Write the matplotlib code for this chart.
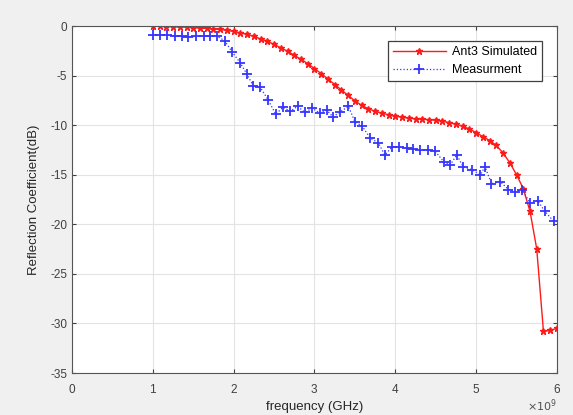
import numpy as np
import matplotlib
matplotlib.use("Agg")
import matplotlib.pyplot as plt
from matplotlib.ticker import ScalarFormatter

# simulated S11 (GHz, dB)
sim_freq = [1.000, 1.083, 1.167, 1.250, 1.333, 1.417, 1.500, 1.583, 1.667, 1.750,
            1.833, 1.917, 2.000, 2.083, 2.167, 2.250, 2.333, 2.417, 2.500, 2.583,
            2.667, 2.750, 2.833, 2.917, 3.000, 3.083, 3.167, 3.250, 3.333, 3.417,
            3.500, 3.583, 3.667, 3.750, 3.833, 3.917, 4.000, 4.083, 4.167, 4.250,
            4.333, 4.417, 4.500, 4.583, 4.667, 4.750, 4.833, 4.917, 5.000, 5.083,
            5.167, 5.250, 5.333, 5.417, 5.500, 5.583, 5.667, 5.750, 5.833, 5.917,
            6.000]
sim_db = [0.0, 0.0, -0.05, -0.05, -0.1, -0.1, -0.15, -0.2, -0.25, -0.3,
          -0.35, -0.45, -0.55, -0.7, -0.85, -1.05, -1.3, -1.55, -1.85, -2.2,
          -2.55, -2.95, -3.35, -3.8, -4.3, -4.8, -5.35, -5.9, -6.45, -7.0,
          -7.55, -8.0, -8.35, -8.6, -8.8, -8.95, -9.1, -9.2, -9.3, -9.35,
          -9.4, -9.45, -9.5, -9.6, -9.75, -9.9, -10.1, -10.4, -10.75, -11.15,
          -11.55, -12.05, -12.8, -13.8, -15.0, -16.4, -18.7, -22.5, -30.8, -30.7,
          -30.5]

# measured S11 (GHz, dB)
meas_freq = [1.00, 1.09, 1.17, 1.27, 1.36, 1.44, 1.54, 1.63, 1.71, 1.79,
             1.89, 1.98, 2.08, 2.16, 2.24, 2.33, 2.43, 2.52, 2.61, 2.70,
             2.79, 2.88, 2.97, 3.07, 3.15, 3.23, 3.32, 3.42, 3.50, 3.59,
             3.69, 3.79, 3.87, 3.96, 4.04, 4.14, 4.22, 4.31, 4.41, 4.49,
             4.60, 4.68, 4.76, 4.84, 4.95, 5.05, 5.11, 5.19, 5.30, 5.40,
             5.48, 5.57, 5.67, 5.76, 5.85, 5.96]
meas_db = [-0.9, -0.9, -0.9, -1.0, -1.05, -1.1, -1.05, -1.0, -1.0, -1.0,
           -1.5, -2.6, -3.7, -4.8, -6.0, -6.2, -7.5, -8.9, -8.2, -8.6,
           -8.1, -8.7, -8.3, -8.8, -8.5, -9.15, -8.65, -8.1, -9.65, -10.1,
           -11.3, -11.8, -13.0, -12.2, -12.2, -12.3, -12.4, -12.5, -12.5, -12.6,
           -13.7, -14.0, -13.0, -14.2, -14.5, -15.0, -14.2, -15.9, -15.7, -16.5,
           -16.7, -16.5, -17.9, -17.6, -18.7, -19.7]

plt.rcParams['font.family'] = ['Liberation Sans', 'DejaVu Sans']
plt.rcParams['axes.unicode_minus'] = False

fig = plt.figure(figsize=(5.73, 4.15), dpi=100, facecolor='#f0f0f0')
ax = fig.add_axes([0.1257, 0.1012, 0.8463, 0.8361])

hz = 1e9
ax.plot(np.array(sim_freq) * hz, sim_db, color='#ff1a1a', linestyle='-', linewidth=1.0,
        marker='*', markersize=5, label='Ant3 Simulated')
ax.plot(np.array(meas_freq) * hz, meas_db, color='#3535ff', linestyle=':', linewidth=0.9,
        marker='+', markersize=7, markeredgewidth=1.3, label='Measurment')

ax.set_xlim(0, 6e9)
ax.set_ylim(-35, 0)
ax.set_xticks(np.arange(0, 7) * hz)
ax.set_yticks(np.arange(-35, 1, 5))

fmt = ScalarFormatter(useMathText=True)
fmt.set_powerlimits((0, 0))
ax.xaxis.set_major_formatter(fmt)
ax.xaxis.get_offset_text().set_visible(False)
ax.text(1.0, -0.095, r'$\times10^{9}$', transform=ax.transAxes, ha='right', va='center',
        fontsize=8, color='#505050')

ax.grid(True, color='#e3e3e3', linewidth=0.8)
ax.tick_params(direction='in', top=True, right=True, labelsize=8.5,
               colors='#404040', length=3)
ax.tick_params(axis='x', pad=7)
for sp in ax.spines.values():
    sp.set_color('#555555')
    sp.set_linewidth(0.8)

ax.set_xlabel('frequency (GHz)', fontsize=9.5, color='#262626', labelpad=4)
ax.set_ylabel('Reflection Coefficient(dB)', fontsize=9.5, color='#262626', labelpad=7)

leg = ax.legend(loc='upper right', fontsize=9, fancybox=False, framealpha=1,
                edgecolor='#404040', borderaxespad=1.2, handlelength=4.2,
                handletextpad=0.5, labelspacing=0.5, borderpad=0.4)
leg.get_frame().set_linewidth(0.9)

fig.savefig('out.png', dpi=100, facecolor=fig.get_facecolor())
